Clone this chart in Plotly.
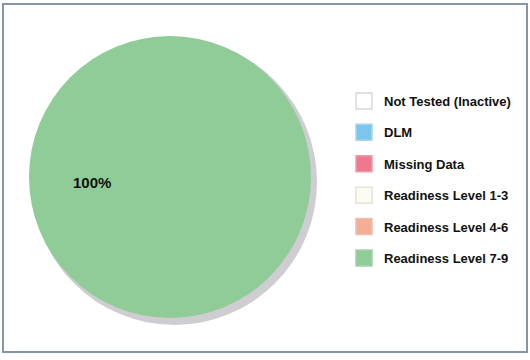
import plotly.graph_objects as go

labels = ["Not Tested (Inactive)", "DLM", "Missing Data",
          "Readiness Level 1-3", "Readiness Level 4-6", "Readiness Level 7-9"]
values = [0, 0, 0, 0, 0, 100]
colors = ["#ffffff", "#7cc6ee", "#f0788c", "#fcfcf2", "#f4ae96", "#8fcc97"]
edge_colors = ["#d8d8d8", "#a6d4ec", "#e7a0ab", "#e4e4da", "#e8bfb0", "#a9cfae"]

W, H = 530, 360
fig = go.Figure()

# pie
fig.add_trace(go.Pie(
    labels=labels, values=values, sort=False, direction="clockwise",
    marker=dict(colors=colors, line=dict(width=0)),
    textinfo="none", hoverinfo="label+percent", showlegend=False,
    domain=dict(x=[29 / W, 311 / W], y=[1 - 319 / H, 1 - 35 / H]),
))

# legend entries
for i, (lab, col, ec) in enumerate(zip(labels, colors, edge_colors)):
    fig.add_trace(go.Scatter(
        x=[None], y=[None], mode="markers", name=lab,
        legendgroup=f"g{i}",
        marker=dict(symbol="square", size=16, color=col, line=dict(width=1.5, color=ec)),
    ))

total = sum(values)
pct = f"{round(100 * values[-1] / total)}%"

fig.update_layout(
    width=W, height=H,
    margin=dict(l=0, r=0, t=0, b=0),
    paper_bgcolor="white", plot_bgcolor="white",
    xaxis=dict(visible=False), yaxis=dict(visible=False),
    legend=dict(
        x=344 / W, y=1 - 86 / H, xanchor="left", yanchor="top",
        font=dict(family="Liberation Sans, Arial, sans-serif", size=13, color="#111111", weight="bold"),
        tracegroupgap=11.5, bgcolor="rgba(0,0,0,0)", itemclick=False,
    ),
    shapes=[
        dict(type="circle", xref="paper", yref="paper", layer="below",
             x0=32 / W, x1=317 / W, y0=1 - 325 / H, y1=1 - 39 / H,
             fillcolor="#cfcdd2", line=dict(width=0)),
        dict(type="rect", xref="paper", yref="paper",
             x0=3 / W, x1=527 / W, y0=1 - 352 / H, y1=1 - 4 / H,
             line=dict(color="#8796a6", width=2), fillcolor="rgba(0,0,0,0)"),
    ],
    annotations=[dict(
        text=f"<b>{pct}</b>", x=92 / W, y=1 - 182 / H, xref="paper", yref="paper",
        xanchor="center", yanchor="middle",
        showarrow=False, font=dict(family="Liberation Sans, Arial, sans-serif", size=15, color="#111111"),
    )],
)

fig.write_html("out.html", config={"displayModeBar": False},
               post_script="document.body.style.margin='0';")
